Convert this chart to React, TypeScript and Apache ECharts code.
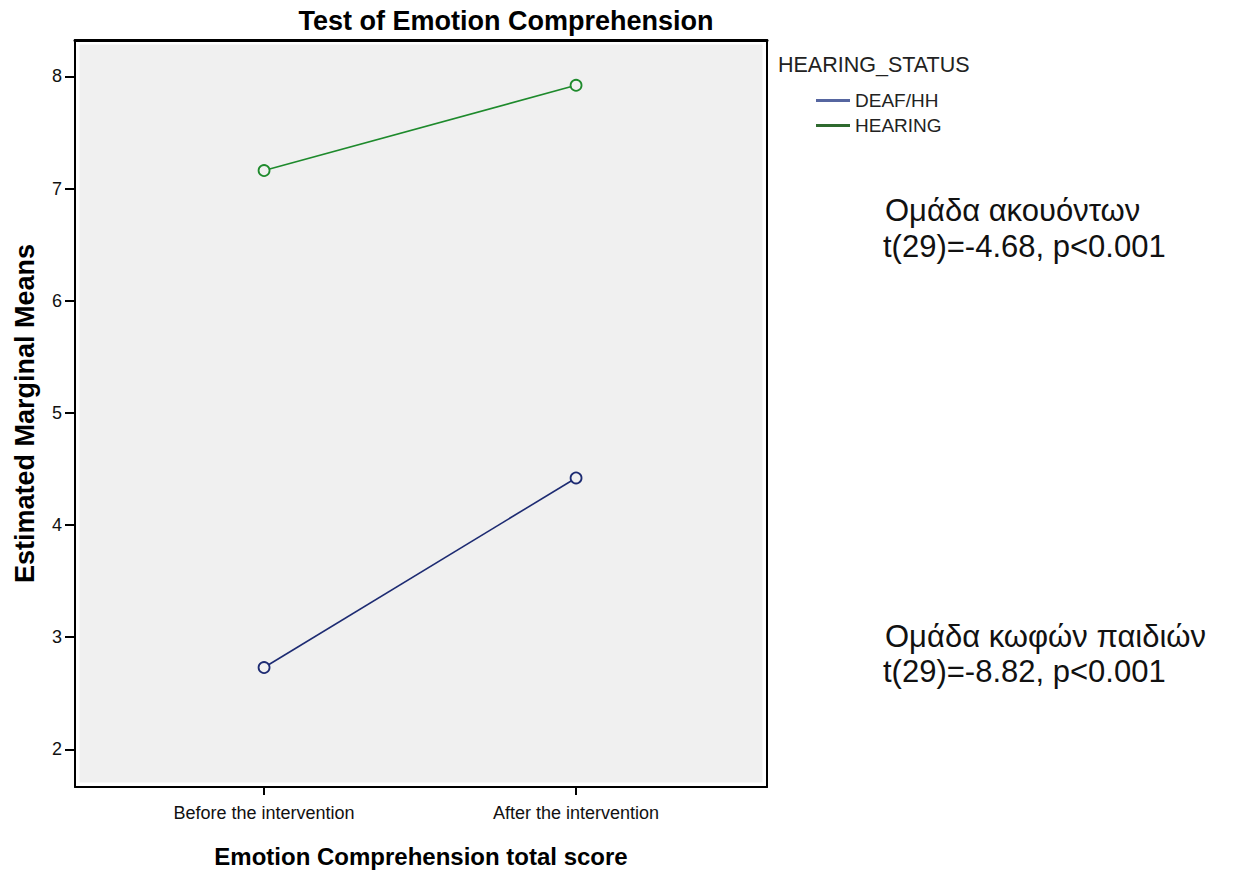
import React, { useEffect, useRef } from "react";
import * as echarts from "echarts";

const categories = ["Before the intervention", "After the intervention"];
const seriesNames = ["DEAF/HH", "HEARING"];
const deafMeans = [2.73, 4.42];
const hearingMeans = [7.16, 7.92];
const yTicks = [2, 3, 4, 5, 6, 7, 8];
const xTicks = [0, 1];

const chartTitle = "Test of Emotion Comprehension";
const xName = "Emotion Comprehension total score";
const yName = "Estimated Marginal Means";
const legendTitle = "HEARING_STATUS";
const noteHearing = ["Ομάδα ακουόντων", "t(29)=-4.68, p<0.001"];
const noteDeaf = ["Ομάδα κωφών παιδιών", "t(29)=-8.82, p<0.001"];

const SANS = "'Liberation Sans', Arial, sans-serif";

export default function App() {
  const ref = useRef<HTMLDivElement>(null);
  useEffect(() => {
    if (!ref.current) return;
    const chart = echarts.init(ref.current, undefined, { renderer: "svg" });
    const xMin = -0.606;
    const xMax = 1.612;
    const yMin = 1.665;
    const yMax = 8.324;
    const noteText = (x: number, y: number, t: string) => ({
      type: "text",
      x,
      y,
      style: {
        text: t,
        font: `31px ${SANS}`,
        fill: "#111",
        align: "left",
        verticalAlign: "middle",
      },
    });
    chart.setOption({
      animation: false,
      backgroundColor: "#ffffff",
      grid: {
        left: 75,
        top: 40,
        width: 692,
        height: 747,
        outerBoundsMode: "none",
        containLabel: false,
        show: true,
        backgroundColor: "#f0f0f0",
        borderColor: "#ffffff",
        borderWidth: 9,
      },
      xAxis: [
        {
          type: "value",
          min: xMin,
          max: xMax,
          position: "bottom",
          axisLine: { show: true, onZero: false, lineStyle: { color: "#000", width: 2 } },
          axisTick: { show: true, customValues: xTicks, length: 8, lineStyle: { color: "#000", width: 2 } },
          axisLabel: {
            customValues: xTicks,
            formatter: (v: number) => categories[Math.round(v)] ?? "",
            fontSize: 18,
            color: "#111",
            fontFamily: SANS,
            margin: 17,
          },
          splitLine: { show: false },
          name: xName,
          nameLocation: "middle",
          nameGap: 57,
          nameTextStyle: { fontSize: 24, fontWeight: "bold", color: "#000", fontFamily: SANS },
        },
        {
          type: "value",
          min: xMin,
          max: xMax,
          position: "top",
          axisLine: { show: true, onZero: false, lineStyle: { color: "#000", width: 3 } },
          axisTick: { show: false },
          axisLabel: { show: false },
          splitLine: { show: false },
        },
      ],
      yAxis: [
        {
          type: "value",
          min: yMin,
          max: yMax,
          position: "left",
          axisLine: { show: true, onZero: false, lineStyle: { color: "#000", width: 2 } },
          axisTick: { show: true, customValues: yTicks, length: 10, lineStyle: { color: "#000", width: 2 } },
          axisLabel: {
            customValues: yTicks,
            fontSize: 18,
            color: "#111",
            fontFamily: SANS,
            margin: 13,
          },
          splitLine: { show: false },
          name: yName,
          nameLocation: "middle",
          nameGap: 37,
          nameTextStyle: { fontSize: 27, fontWeight: "bold", color: "#000", fontFamily: SANS },
        },
        {
          type: "value",
          min: yMin,
          max: yMax,
          position: "right",
          axisLine: { show: true, onZero: false, lineStyle: { color: "#000", width: 2 } },
          axisTick: { show: false },
          axisLabel: { show: false },
          splitLine: { show: false },
        },
      ],
      legend: {
        orient: "vertical",
        left: 811,
        top: 86,
        itemWidth: 34,
        itemHeight: 3,
        itemGap: 6,
        icon: "rect",
        selectedMode: false,
        textStyle: { fontSize: 19, color: "#222", fontFamily: SANS },
        data: [
          { name: seriesNames[0], itemStyle: { color: "#5666a0", borderWidth: 0 } },
          { name: seriesNames[1], itemStyle: { color: "#2f6a2f", borderWidth: 0 } },
        ],
      },
      series: [
        {
          name: seriesNames[0],
          type: "line",
          xAxisIndex: 0,
          yAxisIndex: 0,
          data: categories.map((_, i) => [i, deafMeans[i]]),
          symbol: "circle",
          symbolSize: 11,
          itemStyle: { color: "#f0f0f0", borderColor: "#1d2b72", borderWidth: 1.8 },
          lineStyle: { color: "#1d2b72", width: 1.6 },
        },
        {
          name: seriesNames[1],
          type: "line",
          xAxisIndex: 0,
          yAxisIndex: 0,
          data: categories.map((_, i) => [i, hearingMeans[i]]),
          symbol: "circle",
          symbolSize: 11,
          itemStyle: { color: "#f0f0f0", borderColor: "#1e8a2c", borderWidth: 1.8 },
          lineStyle: { color: "#1e8a2c", width: 1.6 },
        },
      ],
      graphic: [
        {
          type: "text",
          x: 506,
          y: 21,
          style: {
            text: chartTitle,
            font: `bold 27px ${SANS}`,
            fill: "#000",
            align: "center",
            verticalAlign: "middle",
          },
        },
        {
          type: "text",
          x: 778,
          y: 65,
          style: { text: legendTitle, font: `21.5px ${SANS}`, fill: "#222", align: "left", verticalAlign: "middle" },
        },
        noteText(885, 210, noteHearing[0]),
        noteText(883, 246, noteHearing[1]),
        noteText(885, 636, noteDeaf[0]),
        noteText(883, 671, noteDeaf[1]),
      ],
    });
    return () => chart.dispose();
  }, []);
  return (
    <div
      ref={ref}
      style={{ position: "absolute", left: 0, top: 0, width: 1257, height: 873 }}
    />
  );
}
